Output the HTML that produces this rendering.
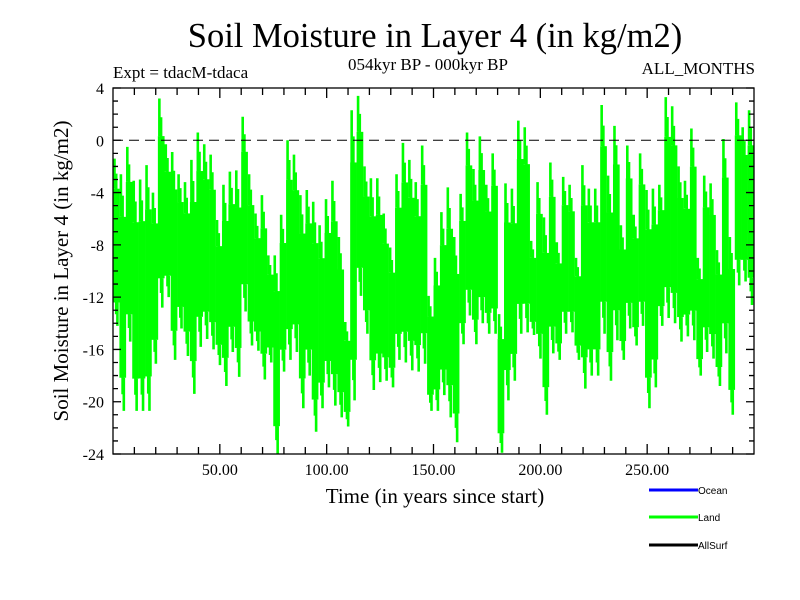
<!DOCTYPE html>
<html><head><meta charset="utf-8">
<style>
html,body{margin:0;padding:0;background:#fff;}
svg{display:block;}
text{font-family:"Liberation Serif",serif;fill:#000;}
</style></head>
<body>
<svg id="chart" width="800" height="600" viewBox="0 0 800 600">
<text x="435" y="47" font-size="34.5" text-anchor="middle">Soil Moisture in Layer 4 (in kg/m2)</text>
<text x="113" y="78" font-size="17">Expt = tdacM-tdaca</text>
<text x="428" y="70" font-size="17" text-anchor="middle">054kyr BP - 000kyr BP</text>
<text x="755" y="74" font-size="17" text-anchor="end">ALL_MONTHS</text>
<text x="435" y="503" font-size="21" text-anchor="middle">Time (in years since start)</text>
<text transform="translate(68,271) rotate(-90)" font-size="21" text-anchor="middle">Soil Moisture in Layer 4 (in kg/m2)</text>
<g id="plot"></g>
<g>
<g><line x1="649" y1="490" x2="698" y2="490" stroke="#0000ff" stroke-width="3"/><text x="698" y="494" font-size="10" style="font-family:'Liberation Sans',sans-serif">Ocean</text></g>
<g><line x1="649" y1="517" x2="698" y2="517" stroke="#00ff00" stroke-width="3"/><text x="698" y="521" font-size="10" style="font-family:'Liberation Sans',sans-serif">Land</text></g>
<g><line x1="649" y1="545" x2="698" y2="545" stroke="#000" stroke-width="3"/><text x="698" y="549" font-size="10" style="font-family:'Liberation Sans',sans-serif">AllSurf</text></g>
</g>
</svg>
<script>
// 3-year bins: upper and lower envelope of the Land series
const binYears = 3;
const landHigh = [-1.4,-2.6,-0.5,-3.1,-3,-1.9,-4,3.2,-0.3,-0.9,-2.6,-3.2,-1.5,0.6,-0.3,-1.1,-6.1,-3.4,-2.4,-2.3,1.8,-2.6,-5.6,-4.2,-8.8,
-8.8,-5.7,0,-1.1,-4.2,-3.8,-4.7,-6.5,-4.5,-3.1,-7.4,-13.9,2.3,3.4,-2,-2.9,-2.9,-5.6,-8.2,-2.6,-0.2,-1.5,-3.2,-0.4,-11.9,
-9,-5.5,-3.6,-7.4,-4.1,0.6,-2.2,0.3,-3.4,-1,-13.3,-3.3,-3.7,1.5,1,-7.7,-3.2,-5.9,-1.7,-7.8,-2.8,-3.4,-9,-1.9,-3.7,
-3.7,2.7,-2.7,1.1,-6.5,-0.4,-5.7,-1,-3.8,-3.7,-3.4,3.3,2.6,-2,-3.1,0.9,-9,-2.7,-3.3,-8.4,0.1,-7.4,2.9,1,2.3];
const landLow = [-14.2,-20.7,-15.4,-20.7,-20.7,-20.7,-17.1,-12.8,-12,-16.8,-14.4,-16.5,-19.4,-15.8,-15.2,-16,-17.2,-18.8,-16.2,-18.1,-13.1,-15.7,-16.1,-18.3,-17,
-24,-17.7,-16.8,-16.2,-20.5,-18,-22.3,-20.5,-18.9,-20.3,-21.2,-21.9,-19.9,-11.9,-14.8,-19.1,-18.5,-18.4,-18.9,-16.8,-17,-17.6,-17.7,-17.1,-20.7,
-20.7,-19.5,-21.2,-23.1,-15.6,-13.4,-15.6,-14,-14.8,-14.8,-23.9,-19.9,-18.4,-14.8,-14.7,-14.9,-16.7,-21,-16.3,-16.8,-14.8,-14.7,-16.8,-19,-18,
-18,-14.8,-18.4,-15.3,-16.8,-14.4,-15.7,-14.2,-20.5,-18.9,-14.2,-13.6,-14,-15.4,-15,-15.3,-18,-16.2,-16.7,-18.8,-16.3,-21,-11.1,-10.8,-12.6];
const yTicks = [4,0,-4,-8,-12,-16,-20,-24];
const yTickLabels = ["4","0","-4","-8","-12","-16","-20","-24"];
const xTicks = [50,100,150,200,250];
const xTickLabels = ["50.00","100.00","150.00","200.00","250.00"];

const L=113,R=754,T=88,B=454, xMin=0,xMax=300,yMin=-24,yMax=4;
const sx=v=>L+(v-xMin)/(xMax-xMin)*(R-L);
const sy=v=>B-(v-yMin)/(yMax-yMin)*(B-T);
const NS="http://www.w3.org/2000/svg";
const plot=document.getElementById('plot');
function mk(tag,attrs,parent){const e=document.createElementNS(NS,tag);for(const k in attrs)e.setAttribute(k,attrs[k]);(parent||plot).appendChild(e);return e;}

const defs=mk('defs',{});
const cp=mk('clipPath',{id:'clip'},defs);
mk('rect',{x:L,y:T,width:R-L,height:B-T},cp);
const series=mk('g',{'clip-path':'url(#clip)'});



let d='';
for(let i=0;i<landHigh.length;i++){
  const x0=sx(i*binYears), x1=sx((i+1)*binYears);
  const hi=landHigh[i], lo=landLow[i];
  const cHi=hi-(hi-lo)*0.18, cLo=lo+(hi-lo)*0.14;
  const r=mk('rect',{x:x0,y:sy(cHi),width:x1-x0+0.3,height:sy(cLo)-sy(cHi),fill:'#00ff00'},series);
  
  
  d+=`M${x0+1.5},${sy(hi)}V${sy(cHi)}M${x1-2},${sy(lo)}V${sy(cLo)}M${(x0+x1)/2},${sy((hi+cHi)/2)}V${sy((lo+cLo)/2)}`;
}
const spikes=mk('path',{d:d,stroke:'#00ff00','stroke-width':2.6,fill:'none'},series);



const zl=mk('line',{x1:L,x2:R,y1:sy(0),y2:sy(0),stroke:'#000','stroke-width':1,'stroke-dasharray':'10,6'});



const fr=mk('rect',{x:L,y:T,width:R-L,height:B-T,fill:'none',stroke:'#000','stroke-width':1.3});



let td='';
for(let v=yMin;v<=yMax;v++){const y=sy(v);const len=(v%4===0)?8:5;td+=`M${L},${y}h${len}M${R},${y}h${-len}`;}
for(let v=10;v<xMax;v+=10){const x=sx(v);const len=(v%50===0)?10:7;td+=`M${x},${B}v${-len}M${x},${T}v${len}`;}
const tk=mk('path',{d:td,stroke:'#000','stroke-width':1.3,fill:'none'});



yTicks.forEach((v,i)=>{const t=mk('text',{x:L-9,y:sy(v)+6,'font-size':16,'text-anchor':'end'});t.textContent=yTickLabels[i];

});
xTicks.forEach((v,i)=>{const t=mk('text',{x:sx(v),y:B+21,'font-size':16,'text-anchor':'middle'});t.textContent=xTickLabels[i];

});
</script>
</body></html>
